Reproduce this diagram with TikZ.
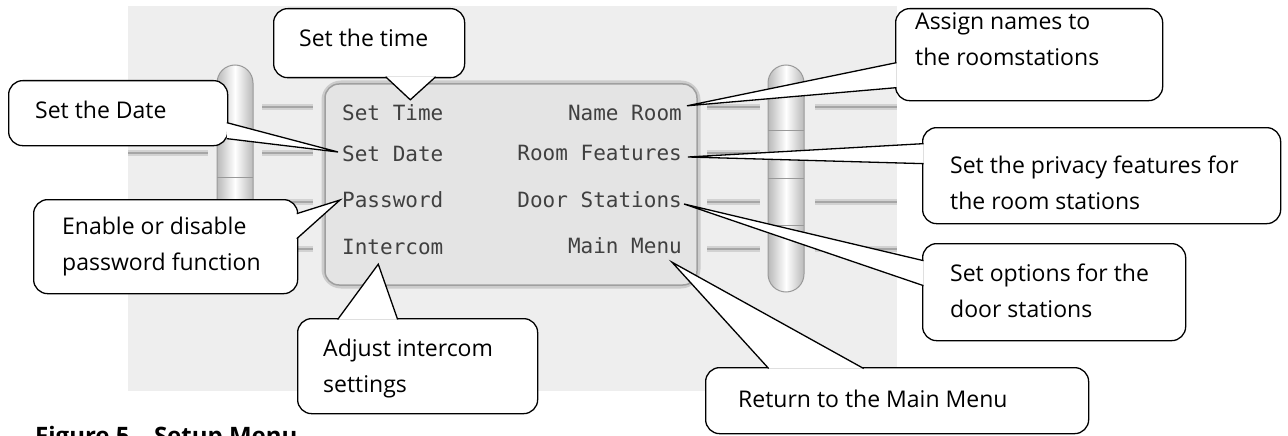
\documentclass[tikz,border=0pt]{standalone}
\usepackage{fontspec}
\setmainfont{Open Sans}
\newfontfamily\lcdfont{DejaVu Sans Mono}
\usetikzlibrary{calc}
\definecolor{panel}{HTML}{EEEEEE}
\definecolor{lcdfill}{HTML}{E4E4E4}
\tikzset{cbox/.style = {draw=black, fill=white, line width=1.3pt, rounded corners=14pt, inner sep=0pt, anchor=north west}}
\tikzset{ctext/.style = {font=\fontsize{23}{36}\selectfont, align=left, inner sep=0pt, anchor=base west}}
\tikzset{ptr/.style = {draw=black, fill=white, line width=1.3pt, line join=miter}}
\tikzset{lcd/.style = {font=\lcdfont\fontsize{21}{21}\selectfont, text=black!75, inner sep=0pt, text height=15pt, text depth=4pt}}
\tikzset{rail/.style = {draw=gray!35, double=gray!70, double distance=2pt, line width=2pt}}
\tikzset{tube/.style = {draw=gray!80, line width=1pt, rounded corners=18pt, left color=gray!55, right color=gray!55, middle color=white}}

\begin{document}
\begin{tikzpicture}[x=1pt, y=-1pt]
                \useasboundingbox (0,0) rectangle (1288,436);
                \fill[panel] (128,6) rectangle (897,391);

                % rails
                \draw[rail] (128,153) -- (208,153);
                \draw[rail] (128,107) -- (208,107);
                \draw[rail] (128,202) -- (208,202);
                \draw[rail] (128,249) -- (208,249);
                \draw[rail] (262,107) -- (313,107);
                \draw[rail] (262,153) -- (313,153);
                \draw[rail] (262,202) -- (313,202);
                \draw[rail] (262,249) -- (313,249);
                \draw[rail] (707,107) -- (760,107);
                \draw[rail] (707,153) -- (760,153);
                \draw[rail] (707,202) -- (760,202);
                \draw[rail] (707,249) -- (760,249);
                \draw[rail] (815,107) -- (897,107);
                \draw[rail] (815,202) -- (897,202);
                \draw[rail] (815,249) -- (897,249);

                % tubes
                \draw[tube] (217,65) rectangle (253,292);
                \draw[gray!80] (217,177) -- (253,177);
                \draw[gray!80] (217,225) -- (253,225);
                \draw[tube] (768,65) rectangle (804,292);
                \draw[gray!80] (768,130) -- (804,130);
                \draw[gray!80] (768,178) -- (804,178);
                \draw[gray!80] (768,225) -- (804,225);

                % screen
                \draw[line width=7pt, gray!40, rounded corners=16pt] (325,84) rectangle (697,285);
                \draw[line width=1.5pt, draw=gray!75, fill=lcdfill, rounded corners=14pt] (325,84) rectangle (697,285);

                \node[lcd, anchor=base west] (mTime) at (342,121) {Set Time};
                \node[lcd, anchor=base west] (mDate) at (342,161) {Set Date};
                \node[lcd, anchor=base west] (mPass) at (342,207) {Password};
                \node[lcd, anchor=base west] (mInter) at (342,254) {Intercom};
                \node[lcd, anchor=base east] (mName) at (682,120) {Name Room};
                \node[lcd, anchor=base east] (mFeat) at (682,160) {Room Features};
                \node[lcd, anchor=base east] (mDoor) at (682,207) {Door Stations};
                \node[lcd, anchor=base east] (mMain) at (682,253) {Main Menu};

                % callouts
                \node[cbox, minimum width=191pt, minimum height=69pt] (bTime) at (273,8) {};
                \node[cbox, minimum width=219pt, minimum height=65pt] (bDate) at (8,80) {};
                \node[cbox, minimum width=264pt, minimum height=94pt] (bPass) at (33,199) {};
                \node[cbox, minimum width=240pt, minimum height=95pt] (bInter) at (297,318) {};
                \node[cbox, minimum width=267pt, minimum height=92pt] (bName) at (895,8) {};
                \node[cbox, minimum width=358pt, minimum height=96pt] (bFeat) at (922,127) {};
                \node[cbox, minimum width=263pt, minimum height=97pt] (bDoor) at (922,243) {};
                \node[cbox, minimum width=383pt, minimum height=66pt] (bMain) at (705,367) {};

                \draw[ptr] ($(bTime.south)+(16.5,-1.5)$) -- ($(mTime.north)+(17.5,-6)$) -- ($(bTime.south)+(66.5,-1.5)$);
                \draw[ptr] ($(bDate.east)+(-1.5,9.5)$) -- ($(mDate.west)+(-4,-3.5)$) -- ($(bDate.east)+(-1.5,25.5)$);
                \draw[ptr] ($(bPass.east)+(-1.5,-33)$) -- ($(mPass.west)+(-2,-1.5)$) -- ($(bPass.east)+(-1.5,-8)$);
                \draw[ptr] ($(bInter.north)+(-80,1.5)$) -- ($(mInter.south)+(-14.5,6)$) -- ($(bInter.north)+(-20,1.5)$);
                \draw[ptr] ($(bName.west)+(1.5,8)$) -- ($(mName.north east)+(5,1)$) -- ($(bName.west)+(1.5,33)$);
                \draw[ptr] ($(bFeat.west)+(1.5,-32)$) -- ($(mFeat.east)+(6,2.5)$) -- ($(bFeat.west)+(1.5,-12)$);
                \draw[ptr] ($(bDoor.west)+(1.5,-31.5)$) -- ($(mDoor.east)+(2,2.5)$) -- ($(bDoor.west)+(1.5,-6.5)$);
                \draw[ptr] ($(bMain.north)+(-128.5,1.5)$) -- ($(mMain.south east)+(-10,5)$) -- ($(bMain.north)+(-33.5,1.5)$);

                % texts (base of the last line)
                \node[ctext] (tTime) at (299,47) {Set the time};
                \node[ctext] (tDate) at (35,118) {Set the Date};
                \node[ctext] (tPass) at (62,270) {Enable or disable\\password function};
                \node[ctext] (tInter) at (323,392) {Adjust intercom\\settings};
                \node[ctext] (tName) at (915,66) {Assign names to\\the roomstations};
                \node[ctext] (tFeat) at (950,209) {Set the privacy features for\\the room stations};
                \node[ctext] (tDoor) at (950,317) {Set options for the\\door stations};
                \node[ctext] (tMain) at (738,407) {Return to the Main Menu};

                \node[font=\bfseries\fontsize{24}{24}\selectfont, anchor=north west, inner sep=0pt] (caption) at (35,426) {Figure 5 – Setup Menu};
            \end{tikzpicture}
\end{document}
